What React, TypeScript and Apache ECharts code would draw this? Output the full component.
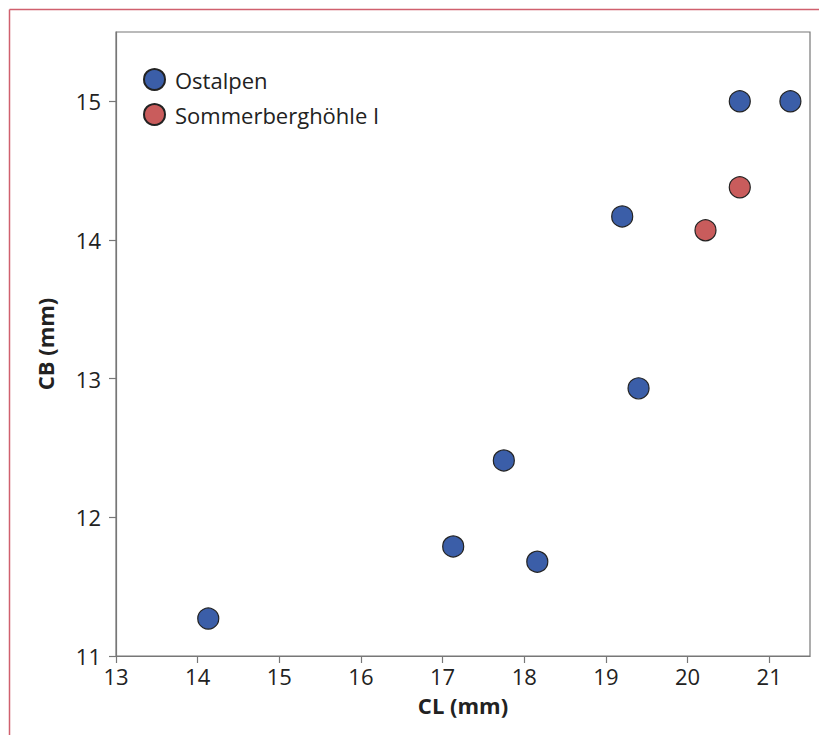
import React, { useEffect, useRef } from "react";
import * as echarts from "echarts";

const ostalpen: [number, number][] = [
  [14.13, 11.27],
  [17.13, 11.79],
  [17.75, 12.41],
  [18.16, 11.68],
  [19.4, 12.93],
  [19.2, 14.17],
  [20.64, 15.0],
  [21.26, 15.0],
];
const sommerberg: [number, number][] = [
  [20.64, 14.38],
  [20.22, 14.07],
];
const seriesNames = ["Ostalpen", "Sommerberghöhle I"];
const xName = "CL (mm)";
const yName = "CB (mm)";

const FONT = "Open Sans";

export default function App() {
  const ref = useRef<HTMLDivElement>(null);
  useEffect(() => {
    if (!ref.current) return;
    const chart = echarts.init(ref.current, undefined, { renderer: "svg" });
    const axisCommon = {
      axisLine: { show: true, lineStyle: { color: "#777", width: 1.2 } },
      axisTick: { show: true, length: 7, lineStyle: { color: "#777", width: 1.2 } },
      splitLine: { show: false },
      nameTextStyle: { fontFamily: FONT, fontWeight: "bold", fontSize: 22, color: "#222" },
    };
    chart.setOption({
      animation: false,
      textStyle: { fontFamily: FONT },
      graphic: [
        { type: "line", shape: { x1: 1.5, y1: 1.5, x2: 819, y2: 1.5 }, style: { stroke: "#d0606e", lineWidth: 1.5 } },
        { type: "line", shape: { x1: 1.5, y1: 1.5, x2: 1.5, y2: 727 }, style: { stroke: "#d0606e", lineWidth: 1.5 } },
      ],
      grid: {
        left: 108,
        top: 24,
        right: 17,
        bottom: 79,
        show: true,
        borderColor: "#777",
        borderWidth: 1.2,
        containLabel: false,
      },
      legend: {
        show: true,
        left: 130,
        top: 55,
        orient: "vertical",
        icon: "circle",
        itemWidth: 21,
        itemHeight: 21,
        itemGap: 12,
        data: seriesNames,
        textStyle: { fontFamily: FONT, fontSize: 22, color: "#222", padding: [0, 0, 0, 5] },
      },
      xAxis: {
        ...axisCommon,
        type: "value",
        min: 13,
        max: 21.5,
        interval: 1,
        name: xName,
        nameLocation: "middle",
        nameGap: 38,
        axisLabel: {
          fontFamily: FONT,
          fontSize: 22,
          color: "#222",
          margin: 9,
          showMaxLabel: false,
        },
      },
      yAxis: {
        ...axisCommon,
        type: "value",
        min: 11,
        max: 15.5,
        interval: 1,
        name: yName,
        nameLocation: "middle",
        nameGap: 60,
        axisLabel: {
          fontFamily: FONT,
          fontSize: 22,
          color: "#222",
          margin: 15,
          showMaxLabel: false,
        },
      },
      series: [
        {
          name: seriesNames[0],
          type: "scatter",
          data: ostalpen,
          symbol: "circle",
          symbolSize: 21,
          itemStyle: { color: "#3b5ea8", borderColor: "#222", borderWidth: 1.2, opacity: 1 },
        },
        {
          name: seriesNames[1],
          type: "scatter",
          data: sommerberg,
          symbol: "circle",
          symbolSize: 21,
          itemStyle: { color: "#c95c5c", borderColor: "#222", borderWidth: 1.2, opacity: 1 },
        },
      ],
    });
    return () => chart.dispose();
  }, []);
  return <div ref={ref} style={{ width: 819, height: 727 }} />;
}
